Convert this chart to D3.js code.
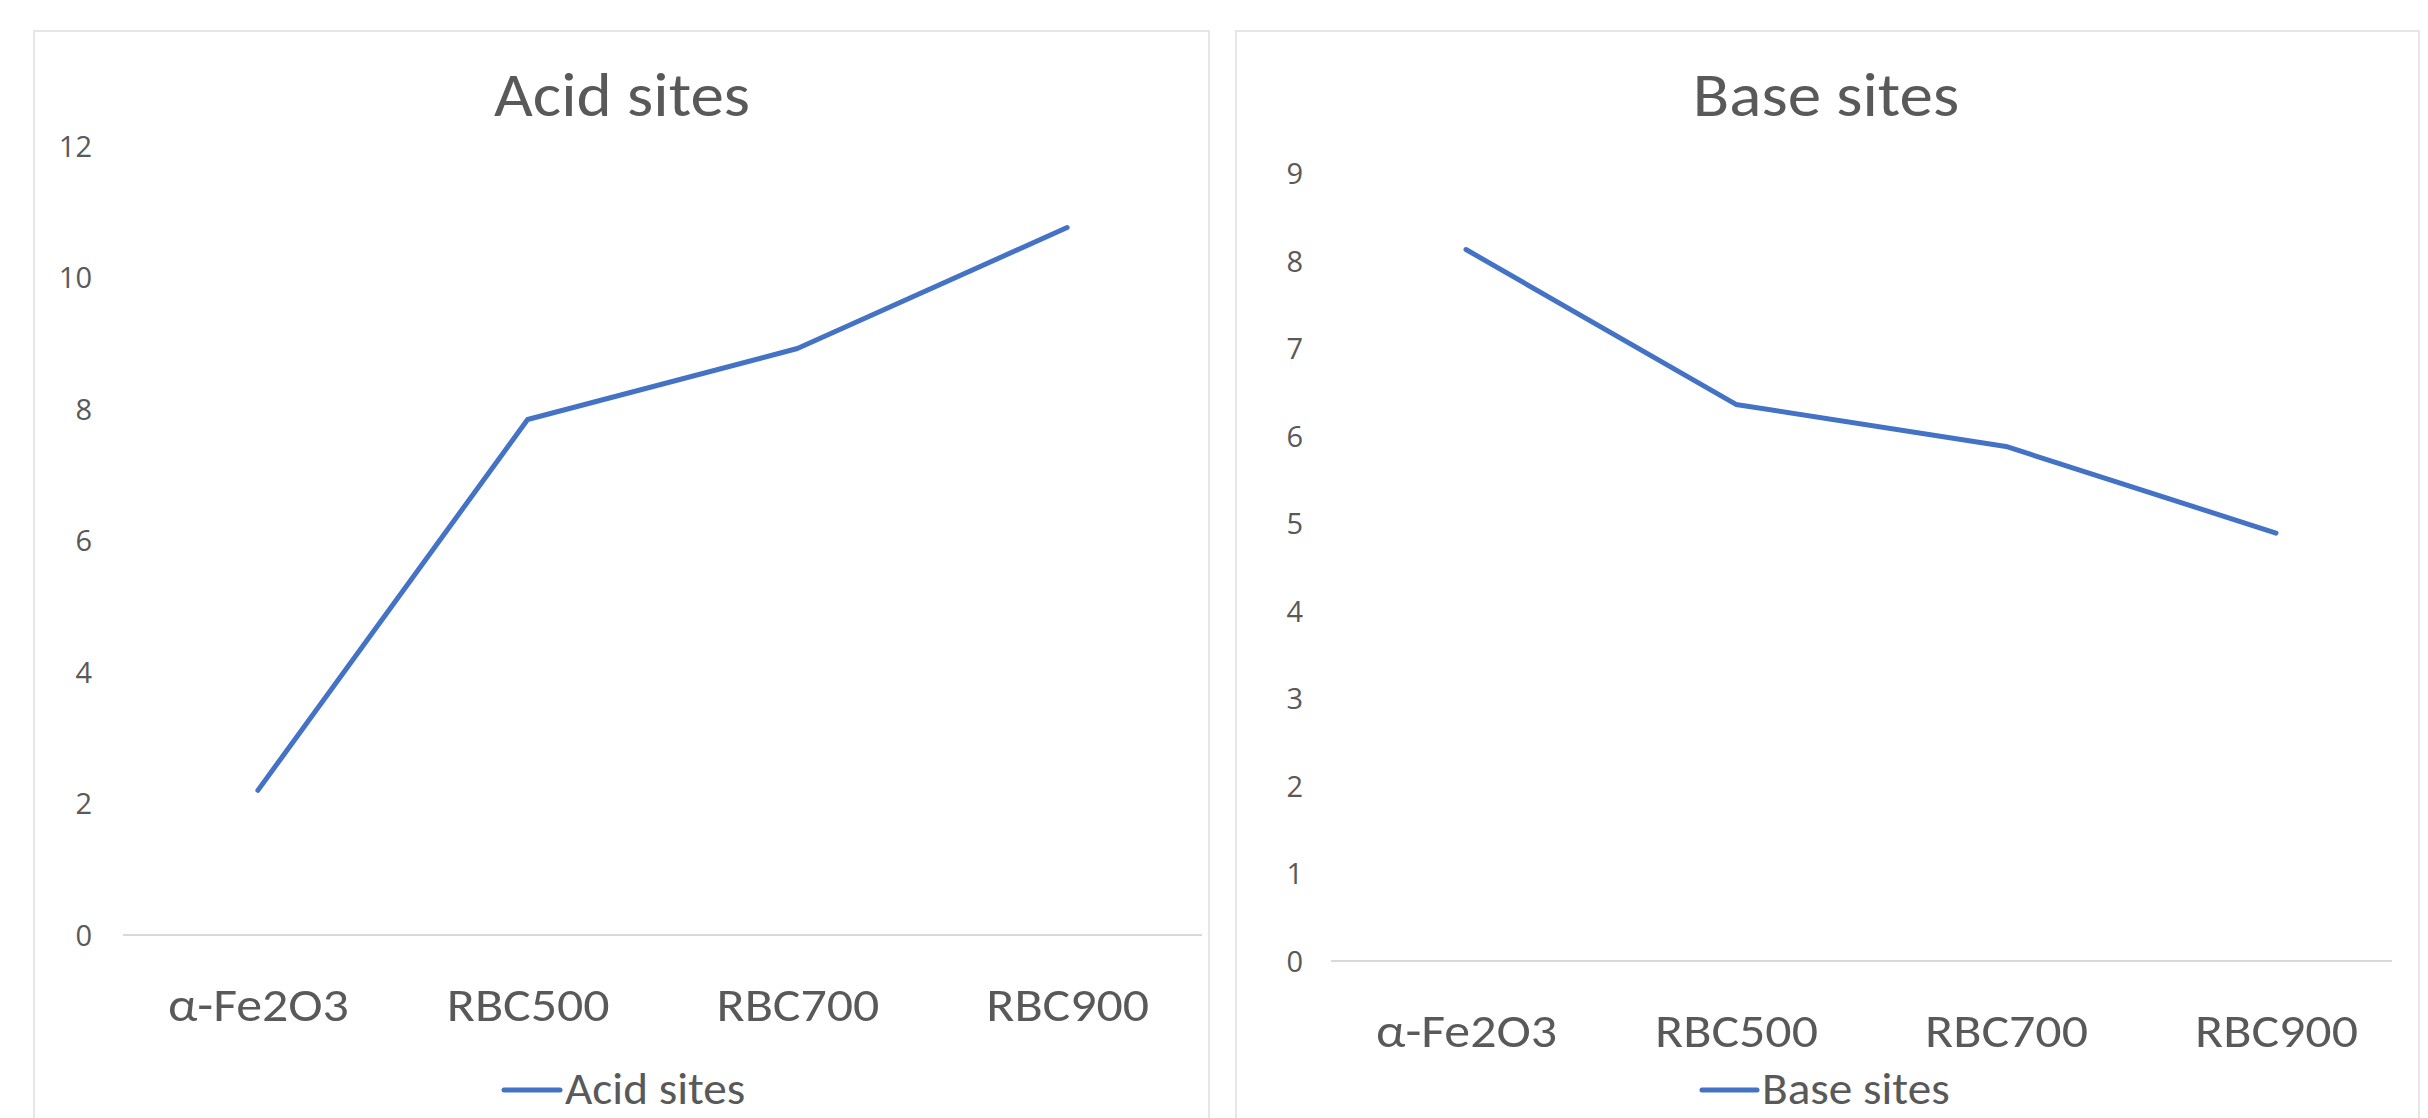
<!DOCTYPE html>
<html>
<head>
<meta charset="utf-8">
<script src="https://cdn.jsdelivr.net/npm/d3@7"></script>
<style>
  html, body { margin: 0; padding: 0; background: #ffffff; }
  svg { display: block; }
</style>
</head>
<body>
<svg id="chart" width="2428" height="1118"></svg>
<script>
// ---- data ----
const categories = ["α-Fe2O3", "RBC500", "RBC700", "RBC900"];
const acidValues = [2.2, 7.84, 8.92, 10.76];
const baseValues = [8.13, 6.36, 5.88, 4.89];
const acidTicks = [0, 2, 4, 6, 8, 10, 12];
const baseTicks = [0, 1, 2, 3, 4, 5, 6, 7, 8, 9];
const titles = ["Acid sites", "Base sites"];

// ---- layout ----
const svg = d3.select("#chart");
const LINE = "#4472C4";
const TEXT = "#595959";
const labelFont = "Carlito, Lato, sans-serif";
const tickFont = "'Open Sans', 'Noto Sans', sans-serif";

// widen a text element horizontally by a factor (to mimic Calibri proportions)
function widen(sel, factor) {
  sel.each(function () {
    const w = this.getComputedTextLength();
    d3.select(this).attr("textLength", w * factor).attr("lengthAdjust", "spacingAndGlyphs");
  });
}

const panels = [
  { box: [34, 31, 1175, 1100], title: titles[0], values: acidValues, ticks: acidTicks,
    yMax: 12, xRange: [123, 1202], axisEnd: 1202, yRange: [935, 146], tickX: 92, titleX: 622,
    catY: 1021, legLine: [504, 560], legY: 1090 },
  { box: [1236, 31, 1183, 1100], title: titles[1], values: baseValues, ticks: baseTicks,
    yMax: 9, xRange: [1331, 2411], axisEnd: 2392, yRange: [961, 173.4], tickX: 1303, titleX: 1826,
    catY: 1047, legLine: [1702, 1757], legY: 1090 }
];

panels.forEach(p => {
  const g = svg.append("g");
  // panel frame
  g.append("rect")
    .attr("x", p.box[0]).attr("y", p.box[1])
    .attr("width", p.box[2]).attr("height", p.box[3])
    .attr("fill", "#ffffff").attr("stroke", "#e6e6e6").attr("stroke-width", 2);

  const x = d3.scalePoint().domain(categories).range(p.xRange).padding(0.5);
  const y = d3.scaleLinear().domain([0, p.yMax]).range(p.yRange);

  // title
  g.append("text")
    .attr("x", p.titleX).attr("y", 116)
    .attr("text-anchor", "middle")
    .attr("font-family", labelFont).attr("font-size", 61)
    .attr("fill", TEXT)
    .text(p.title)
    .call(widen, 1.1);

  // y axis (labels only)
  const yAxis = d3.axisLeft(y).tickValues(p.ticks).tickSize(0).tickPadding(0)
    .tickFormat(d3.format("d"));
  const ya = g.append("g").attr("transform", `translate(${p.tickX},0)`).call(yAxis);
  ya.select(".domain").remove();
  ya.selectAll("text")
    .attr("font-family", tickFont).attr("font-size", 29)
    .attr("fill", TEXT).attr("dy", "0.35em");

  // x axis baseline + category labels
  const xAxis = d3.axisBottom(x).tickSize(0).tickPadding(0);
  const xa = g.append("g").attr("transform", `translate(0,${y(0)})`).call(xAxis);
  xa.select(".domain").remove();
  xa.append("line")
    .attr("x1", p.xRange[0]).attr("x2", p.axisEnd)
    .attr("stroke", "#d9d9d9").attr("stroke-width", 2);
  xa.selectAll(".tick text")
    .attr("font-family", labelFont).attr("font-size", 48)
    .attr("fill", TEXT)
    .attr("dy", null)
    .attr("y", p.catY - y(0))
    .call(widen, 1.08);

  // series line
  const line = d3.line()
    .x((d, i) => x(categories[i]))
    .y(d => y(d));
  g.append("path")
    .datum(p.values)
    .attr("d", line)
    .attr("fill", "none")
    .attr("stroke", LINE)
    .attr("stroke-width", 5)
    .attr("stroke-linecap", "round")
    .attr("stroke-linejoin", "round");

  // legend
  g.append("line")
    .attr("x1", p.legLine[0]).attr("x2", p.legLine[1])
    .attr("y1", p.legY).attr("y2", p.legY)
    .attr("stroke", LINE).attr("stroke-width", 5).attr("stroke-linecap", "round");
  g.append("text")
    .attr("x", p.legLine[1] + 5).attr("y", 1104)
    .attr("font-family", labelFont).attr("font-size", 45)
    .attr("fill", TEXT)
    .text(p.title)
    .call(widen, 1.05);
});
</script>
</body>
</html>
